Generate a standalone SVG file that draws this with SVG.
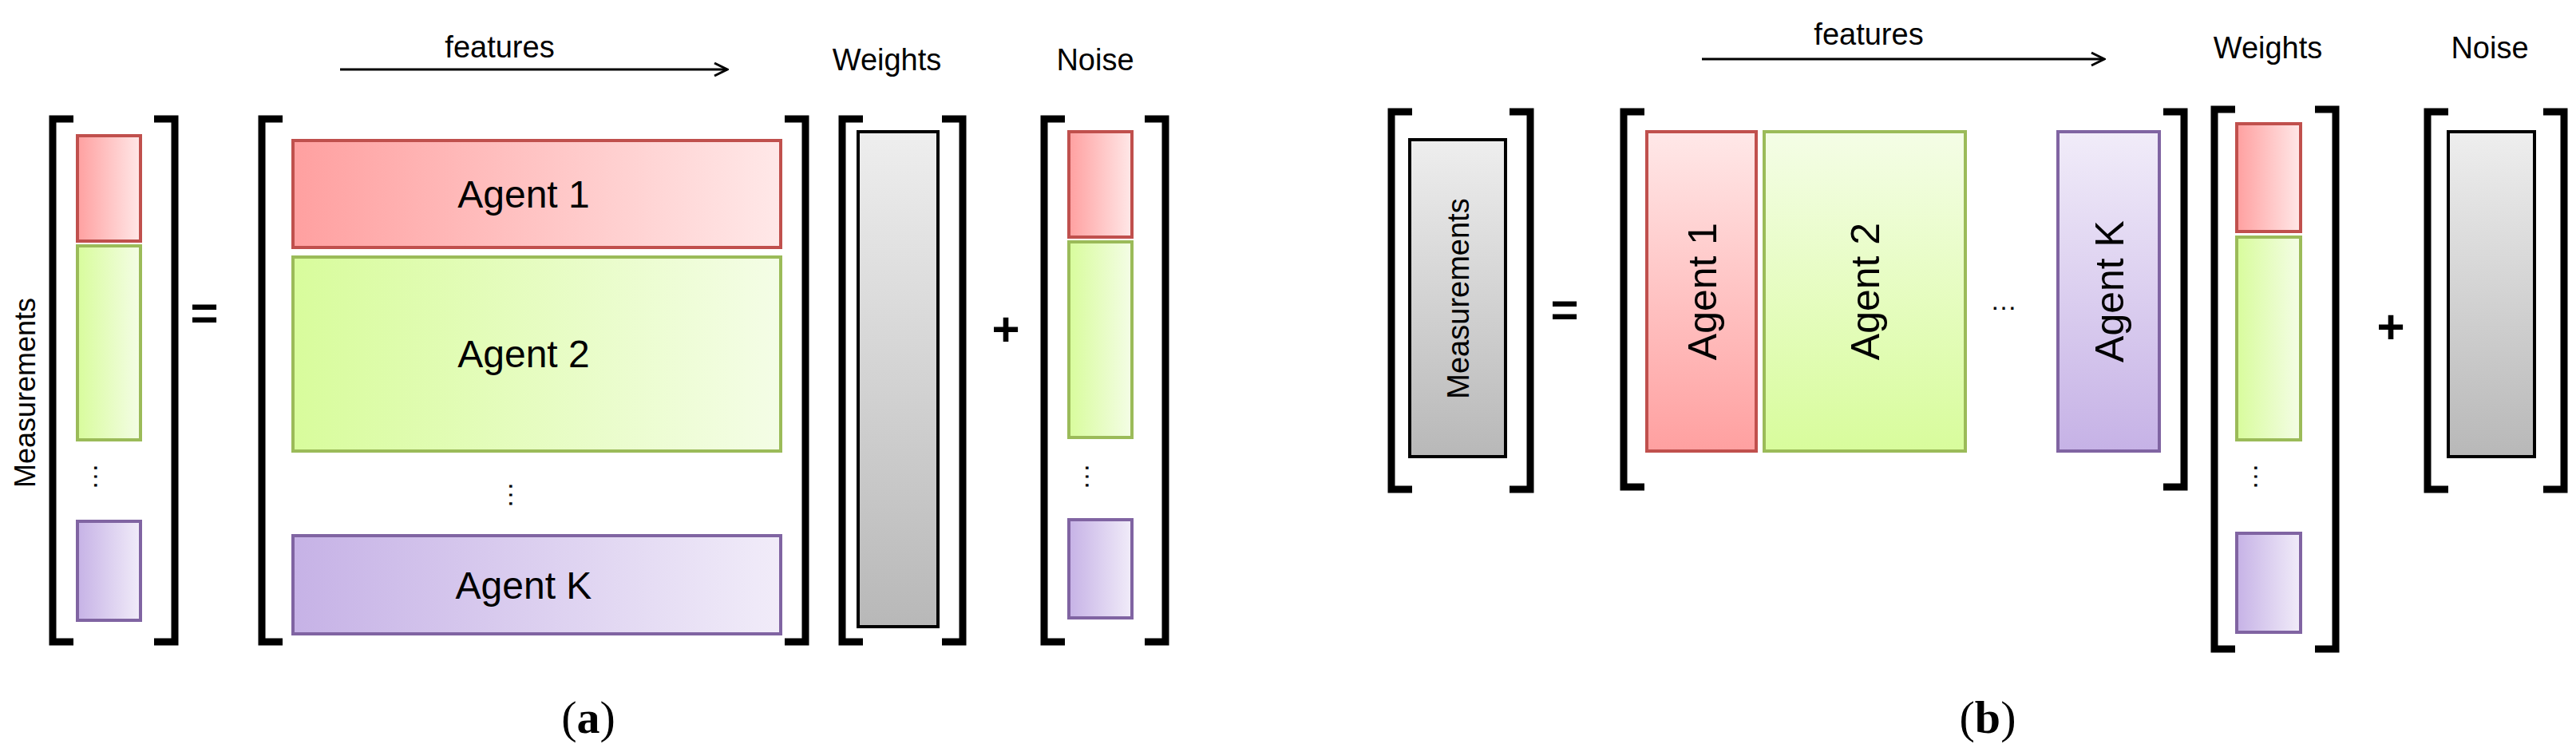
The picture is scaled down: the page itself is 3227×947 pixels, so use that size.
<svg xmlns="http://www.w3.org/2000/svg" width="3227" height="947" viewBox="0 0 3227 947">
<style>
.br{fill:none;stroke:#000;stroke-width:9}
.t{font-family:"Liberation Sans",Arial,sans-serif;fill:#000}
.red{stroke:#c0504d;stroke-width:4}
.grn{stroke:#9bbb59;stroke-width:4}
.pur{stroke:#8064a2;stroke-width:4}
.gry{stroke:#000;stroke-width:4;fill:url(#gG)}
.cap{font-family:"Liberation Serif","Times New Roman",serif;font-size:58px;text-anchor:middle}
</style>
<defs>
<linearGradient id="rH" x1="0" x2="1" y1="0" y2="0"><stop offset="0" stop-color="#ffa0a0"/><stop offset="1" stop-color="#ffe8e8"/></linearGradient>
<linearGradient id="gH" x1="0" x2="1" y1="0" y2="0"><stop offset="0" stop-color="#d8fc9c"/><stop offset="1" stop-color="#f4fde6"/></linearGradient>
<linearGradient id="pH" x1="0" x2="1" y1="0" y2="0"><stop offset="0" stop-color="#c6b2e6"/><stop offset="1" stop-color="#f1ecf9"/></linearGradient>
<linearGradient id="rV" x1="0" x2="0" y1="0" y2="1"><stop offset="0" stop-color="#ffe8e8"/><stop offset="1" stop-color="#ffa0a0"/></linearGradient>
<linearGradient id="gV" x1="0" x2="0" y1="0" y2="1"><stop offset="0" stop-color="#f4fde6"/><stop offset="1" stop-color="#d8fc9c"/></linearGradient>
<linearGradient id="pV" x1="0" x2="0" y1="0" y2="1"><stop offset="0" stop-color="#f1ecf9"/><stop offset="1" stop-color="#c6b2e6"/></linearGradient>
<linearGradient id="gG" x1="0" x2="0" y1="0" y2="1"><stop offset="0" stop-color="#eeeeee"/><stop offset="1" stop-color="#b8b8b8"/></linearGradient>
<marker id="ar" viewBox="0 0 20 20" refX="18" refY="10" markerWidth="20" markerHeight="20" markerUnits="userSpaceOnUse" orient="auto"><path d="M2 2 L18 10 L2 18" fill="none" stroke="#000" stroke-width="3"/></marker>
</defs>

<g id="panel-a">
<g id="a-headers">
<text class="t" x="626" y="72" font-size="38" text-anchor="middle">features</text>
<text class="t" x="1111" y="88" font-size="38" text-anchor="middle">Weights</text>
<text class="t" x="1372" y="88" font-size="38" text-anchor="middle">Noise</text>
</g>
<g id="a-connectors"><line x1="426" y1="87" x2="911" y2="87" stroke="#000" stroke-width="3" marker-end="url(#ar)"/></g>
<g id="a-meas">
<path class="br" d="M92 149 H66 V804 H92 M193 149 H219 V804 H193"/>
<rect x="97" y="170" width="79" height="132" fill="url(#rH)" class="red"/>
<rect x="97" y="308" width="79" height="243" fill="url(#gH)" class="grn"/>
<text class="t" x="136" y="615" font-size="34" text-anchor="middle" transform="rotate(90 136 597)">…</text>
<rect x="97" y="653" width="79" height="124" fill="url(#pH)" class="pur"/>
<text class="t" x="44" y="492" font-size="36" text-anchor="middle" transform="rotate(-90 44 492)">Measurements</text>
</g>
<text class="t" x="256" y="412" font-size="60" text-anchor="middle" font-weight="bold">=</text>
<g id="a-agents">
<path class="br" d="M354 149 H328 V804 H354 M983 149 H1009 V804 H983"/>
<rect x="367" y="176" width="611" height="134" fill="url(#rH)" class="red"/>
<text class="t" x="656" y="260" font-size="48" text-anchor="middle">Agent 1</text>
<rect x="367" y="322" width="611" height="243" fill="url(#gH)" class="grn"/>
<text class="t" x="656" y="460" font-size="48" text-anchor="middle">Agent 2</text>
<text class="t" x="656" y="638" font-size="34" text-anchor="middle" transform="rotate(90 656 620)">…</text>
<rect x="367" y="671" width="611" height="123" fill="url(#pH)" class="pur"/>
<text class="t" x="656" y="750" font-size="48" text-anchor="middle">Agent K</text>
</g>
<g id="a-weights">
<path class="br" d="M1081 149 H1055 V804 H1081 M1180 149 H1206 V804 H1180"/>
<rect x="1075" y="165" width="100" height="620" class="gry"/>
</g>
<text class="t" x="1260" y="433" font-size="60" text-anchor="middle" font-weight="bold">+</text>
<g id="a-noise">
<path class="br" d="M1334 149 H1308 V804 H1334 M1434 149 H1460 V804 H1434"/>
<rect x="1339" y="165" width="79" height="132" fill="url(#rH)" class="red"/>
<rect x="1339" y="303" width="79" height="245" fill="url(#gH)" class="grn"/>
<text class="t" x="1378" y="615" font-size="34" text-anchor="middle" transform="rotate(90 1378 597)">…</text>
<rect x="1339" y="651" width="79" height="123" fill="url(#pH)" class="pur"/>
</g>
<text class="cap" x="737" y="918">(<tspan font-weight="bold">a</tspan>)</text>
</g>

<g id="panel-b">
<g id="b-headers">
<text class="t" x="2341" y="56" font-size="38" text-anchor="middle">features</text>
<text class="t" x="2841" y="73" font-size="38" text-anchor="middle">Weights</text>
<text class="t" x="3119" y="73" font-size="38" text-anchor="middle">Noise</text>
</g>
<g id="b-connectors"><line x1="2132" y1="74" x2="2636" y2="74" stroke="#000" stroke-width="3" marker-end="url(#ar)"/></g>
<g id="b-meas">
<path class="br" d="M1769 140 H1743 V613 H1769 M1891 140 H1917 V613 H1891"/>
<rect x="1766" y="175" width="120" height="397" class="gry"/>
<text class="t" x="1840" y="374" font-size="38" text-anchor="middle" transform="rotate(-90 1840 374)">Measurements</text>
</g>
<text class="t" x="1960" y="408" font-size="60" text-anchor="middle" font-weight="bold">=</text>
<g id="b-agents">
<path class="br" d="M2060 140 H2034 V610 H2060 M2710 140 H2736 V610 H2710"/>
<rect x="2063" y="165" width="137" height="400" fill="url(#rV)" class="red"/>
<text class="t" x="2150" y="365" font-size="50" text-anchor="middle" transform="rotate(-90 2150 365)">Agent 1</text>
<rect x="2210" y="165" width="252" height="400" fill="url(#gV)" class="grn"/>
<text class="t" x="2354" y="365" font-size="50" text-anchor="middle" transform="rotate(-90 2354 365)">Agent 2</text>
<text class="t" x="2510" y="388" font-size="34" text-anchor="middle">…</text>
<rect x="2578" y="165" width="127" height="400" fill="url(#pV)" class="pur"/>
<text class="t" x="2660" y="365" font-size="50" text-anchor="middle" transform="rotate(-90 2660 365)">Agent K</text>
</g>
<g id="b-weights">
<path class="br" d="M2800 137 H2774 V813 H2800 M2900 137 H2926 V813 H2900"/>
<rect x="2802" y="155" width="80" height="135" fill="url(#rH)" class="red"/>
<rect x="2802" y="297" width="80" height="254" fill="url(#gH)" class="grn"/>
<text class="t" x="2842" y="615" font-size="34" text-anchor="middle" transform="rotate(90 2842 597)">…</text>
<rect x="2802" y="668" width="80" height="124" fill="url(#pH)" class="pur"/>
</g>
<text class="t" x="2995" y="430" font-size="60" text-anchor="middle" font-weight="bold">+</text>
<g id="b-noise">
<path class="br" d="M3067 140 H3041 V613 H3067 M3186 140 H3212 V613 H3186"/>
<rect x="3067" y="165" width="108" height="407" class="gry"/>
</g>
<text class="cap" x="2490" y="918">(<tspan font-weight="bold">b</tspan>)</text>
</g>
</svg>
